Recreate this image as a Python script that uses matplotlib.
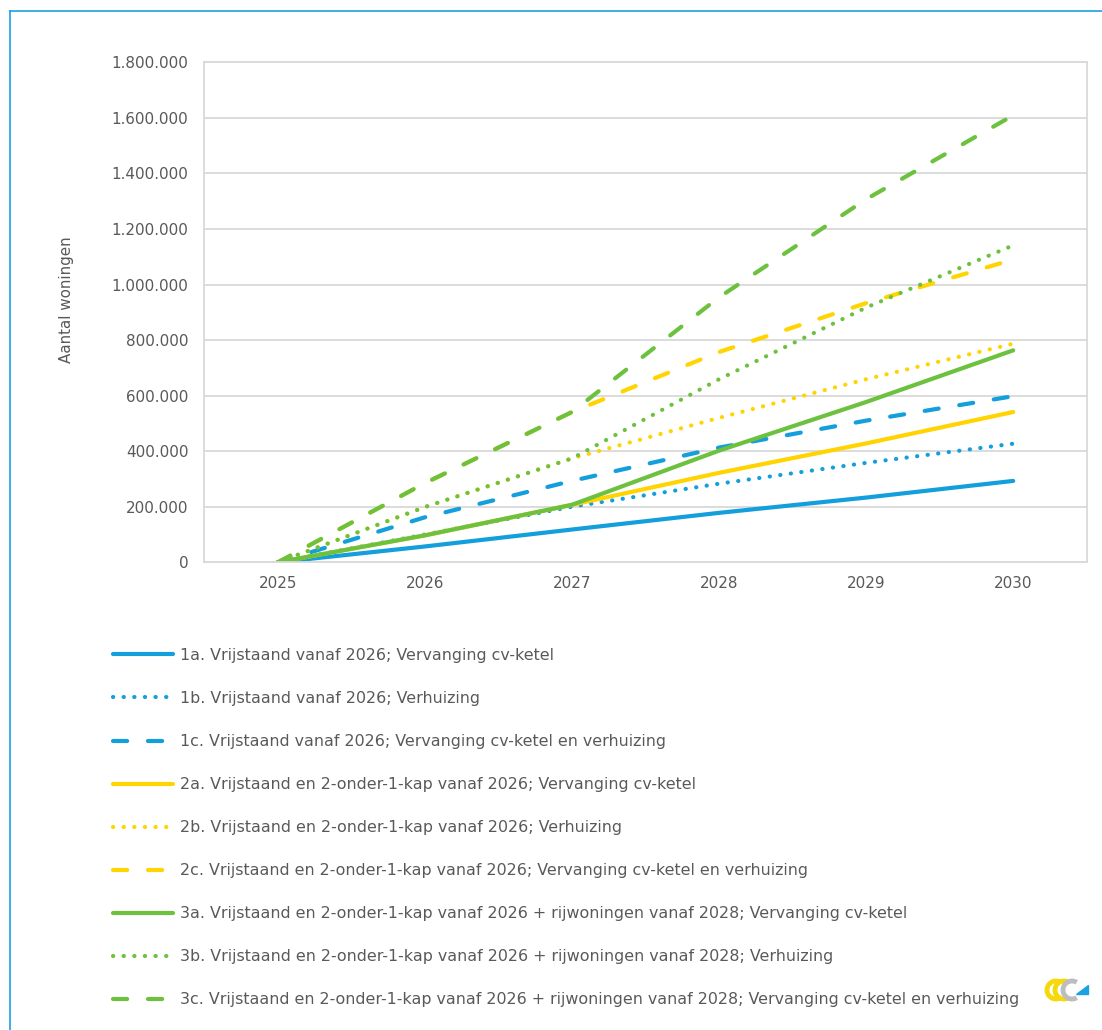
import matplotlib
matplotlib.use("Agg")
import matplotlib.pyplot as plt
from matplotlib.lines import Line2D
from matplotlib.patches import Arc, Polygon
from matplotlib.ticker import FuncFormatter

# data (aantal woningen per jaar)
years = ["2025", "2026", "2027", "2028", "2029", "2030"]
s1a = [0, 57000, 118000, 178000, 233000, 293000]
s1b = [0, 100000, 200000, 283000, 358000, 427000]
s1c = [0, 162000, 293000, 413000, 510000, 598000]
s2a = [0, 97000, 207000, 322000, 428000, 541000]
s2b = [0, 199000, 374000, 520000, 659000, 787000]
s2c = [0, 285000, 541000, 757000, 933000, 1090000]
s3a = [0, 97000, 207000, 402000, 577000, 763000]
s3b = [0, 199000, 374000, 659000, 917000, 1141000]
s3c = [0, 285000, 541000, 954000, 1307000, 1609000]

labels = [
    "1a. Vrijstaand vanaf 2026; Vervanging cv-ketel",
    "1b. Vrijstaand vanaf 2026; Verhuizing",
    "1c. Vrijstaand vanaf 2026; Vervanging cv-ketel en verhuizing",
    "2a. Vrijstaand en 2-onder-1-kap vanaf 2026; Vervanging cv-ketel",
    "2b. Vrijstaand en 2-onder-1-kap vanaf 2026; Verhuizing",
    "2c. Vrijstaand en 2-onder-1-kap vanaf 2026; Vervanging cv-ketel en verhuizing",
    "3a. Vrijstaand en 2-onder-1-kap vanaf 2026 + rijwoningen vanaf 2028; Vervanging cv-ketel",
    "3b. Vrijstaand en 2-onder-1-kap vanaf 2026 + rijwoningen vanaf 2028; Verhuizing",
    "3c. Vrijstaand en 2-onder-1-kap vanaf 2026 + rijwoningen vanaf 2028; Vervanging cv-ketel en verhuizing",
]

blue = "#139fdc"
yellow = "#ffd400"
green = "#6cc13e"
grid_c = "#d9d9d9"
text_c = "#595959"

solid = "-"
dotted = (0, (0.05, 2.5))
dashed = (0, (3.4, 5.0))

series = [
    (s1a, blue, solid), (s1b, blue, dotted), (s1c, blue, dashed),
    (s2a, yellow, solid), (s2b, yellow, dotted), (s2c, yellow, dashed),
    (s3a, green, solid), (s3b, green, dotted), (s3c, green, dashed),
]

plt.rcParams['font.family'] = ['DejaVu Sans']
W, H = 1102, 1030
fig = plt.figure(figsize=(W / 100, H / 100), dpi=100)

# blue frame round the figure (only top and left visible in the crop)
fig.add_artist(Line2D([10 / W, 1.0], [1 - 11 / H, 1 - 11 / H], color="#1ba1e2", lw=1.2))
fig.add_artist(Line2D([10 / W, 10 / W], [0, 1 - 11 / H], color="#1ba1e2", lw=1.2))

ax = fig.add_axes([204.3 / W, 1 - 562.3 / H, (1086.7 - 204.3) / W, 500 / H])
x = list(range(len(years)))
for (vals, col, ls), lab in zip(series, labels):
    ax.plot(x, vals, color=col, linestyle=ls, lw=3, label=lab,
            solid_capstyle="round", dash_capstyle="round")

ax.set_xlim(-0.5, 5.5)
ax.set_ylim(0, 1800000)
ax.set_yticks(range(0, 1800001, 200000))
ax.yaxis.set_major_formatter(FuncFormatter(lambda v, p: f"{int(v):,}".replace(",", ".")))
ax.set_xticks(x)
ax.set_xticklabels(years)
ax.grid(axis="y", color=grid_c, lw=1.3)
ax.set_axisbelow(True)
for sp in ax.spines.values():
    sp.set_color(grid_c)
    sp.set_linewidth(1.3)
ax.tick_params(length=0, colors=text_c, labelsize=10.9)
ax.tick_params(axis="y", pad=11.5)
ax.tick_params(axis="x", pad=10)

fig.text(67 / W, 1 - 300 / H, "Aantal woningen", rotation=90, ha="center", va="center",
         color=text_c, fontsize=10.9)

leg = fig.legend(loc="upper left", bbox_to_anchor=(113 / W, 1 - 648 / H),
                 frameon=False, fontsize=11.4, handlelength=3.8, handletextpad=0.42,
                 labelspacing=1.77, borderpad=0, borderaxespad=0)
for t in leg.get_texts():
    t.set_color(text_c)

# small logo bottom right
lx, ly = 1056, 990
for dx, c in [(0, "#f5d90a"), (8, "#f5d90a"), (16, "#bdbdbd")]:
    fig.add_artist(Arc(((lx + dx) / W, 1 - ly / H), 18 / W, 18 / H, theta1=60, theta2=300,
                       color=c, lw=3.5, transform=fig.transFigure))
fig.add_artist(Polygon([((lx + 20) / W, 1 - 994 / H), ((lx + 32) / W, 1 - 994 / H),
                        ((lx + 32) / W, 1 - 985 / H)], closed=True, color="#1ba1e2",
                       transform=fig.transFigure))

fig.savefig("out.png", dpi=100)
